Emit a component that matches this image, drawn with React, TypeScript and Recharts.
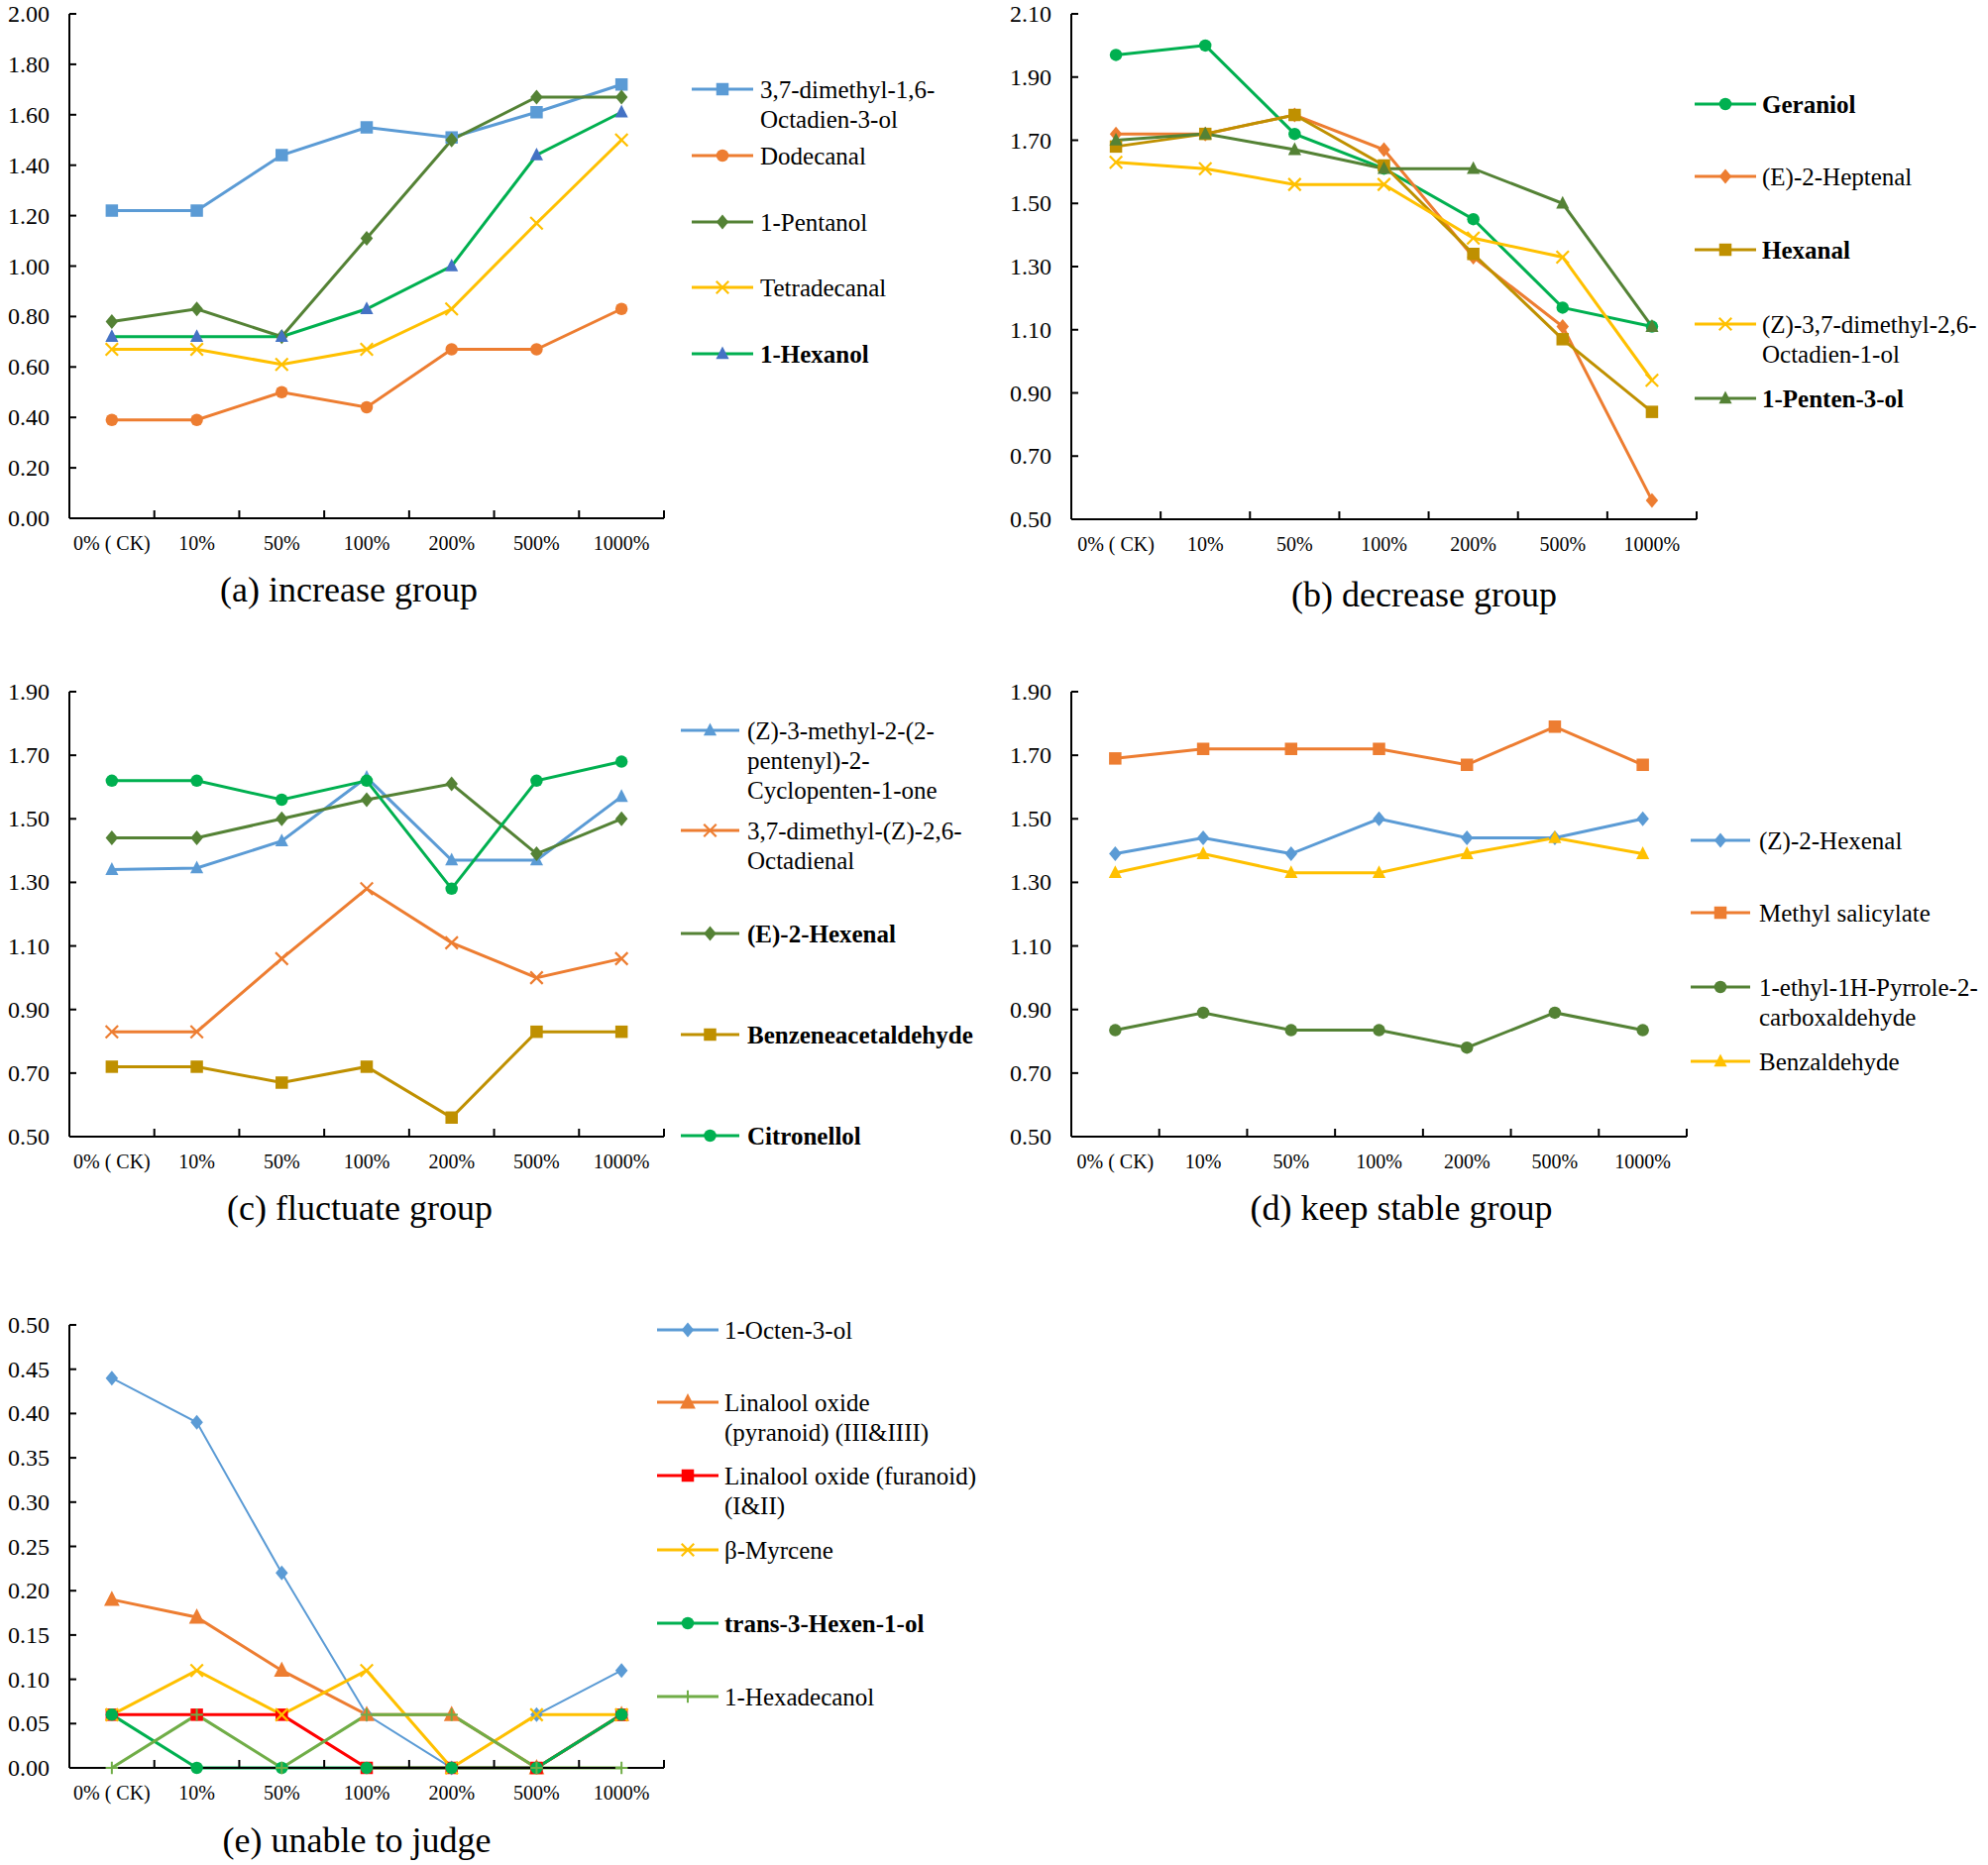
import React from "react";
import { LineChart, Line, XAxis, YAxis } from "recharts";

const FONT = '"Times New Roman", "Liberation Serif", serif';

const categories = ["0% ( CK)", "10%", "50%", "100%", "200%", "500%", "1000%"];

// (a) increase group
const aLinalool = [1.22, 1.22, 1.44, 1.55, 1.51, 1.61, 1.72];
const aDodecanal = [0.39, 0.39, 0.5, 0.44, 0.67, 0.67, 0.83];
const aPentanol = [0.78, 0.83, 0.72, 1.11, 1.5, 1.67, 1.67];
const aTetradecanal = [0.67, 0.67, 0.61, 0.67, 0.83, 1.17, 1.5];
const aHexanol = [0.72, 0.72, 0.72, 0.83, 1.0, 1.44, 1.61];

// (b) decrease group
const bGeraniol = [1.97, 2.0, 1.72, 1.61, 1.45, 1.17, 1.11];
const bHeptenal = [1.72, 1.72, 1.78, 1.67, 1.33, 1.11, 0.56];
const bHexanal = [1.68, 1.72, 1.78, 1.62, 1.34, 1.07, 0.84];
const bGeraniolZ = [1.63, 1.61, 1.56, 1.56, 1.39, 1.33, 0.94];
const bPentenol = [1.7, 1.72, 1.67, 1.61, 1.61, 1.5, 1.11];

// (c) fluctuate group
const cJasmone = [1.34, 1.345, 1.43, 1.63, 1.37, 1.37, 1.57];
const cCitral = [0.83, 0.83, 1.06, 1.28, 1.11, 1.0, 1.06];
const cHexenal = [1.44, 1.44, 1.5, 1.56, 1.61, 1.39, 1.5];
const cBenzeneacet = [0.72, 0.72, 0.67, 0.72, 0.56, 0.83, 0.83];
const cCitronellol = [1.62, 1.62, 1.56, 1.62, 1.28, 1.62, 1.68];

// (d) keep stable group
const dHexenalZ = [1.39, 1.44, 1.39, 1.5, 1.44, 1.44, 1.5];
const dMethylSal = [1.69, 1.72, 1.72, 1.72, 1.67, 1.79, 1.67];
const dPyrrole = [0.835, 0.89, 0.835, 0.835, 0.78, 0.89, 0.835];
const dBenzaldehyde = [1.33, 1.39, 1.33, 1.33, 1.39, 1.44, 1.39];

// (e) unable to judge
const eOctenol = [0.44, 0.39, 0.22, 0.06, 0.0, 0.06, 0.11];
const ePyranoid = [0.19, 0.17, 0.11, 0.06, 0.06, 0.0, 0.06];
const eFuranoid = [0.06, 0.06, 0.06, 0.0, 0.0, 0.0, 0.06];
const eMyrcene = [0.06, 0.11, 0.06, 0.11, 0.0, 0.06, 0.06];
const eHexenol = [0.06, 0.0, 0.0, 0.0, 0.0, 0.0, 0.06];
const eHexadecanol = [0.0, 0.06, 0.0, 0.06, 0.06, 0.0, 0.0];

const ticksA = [0, 0.2, 0.4, 0.6, 0.8, 1.0, 1.2, 1.4, 1.6, 1.8, 2.0];
const ticksB = [0.5, 0.7, 0.9, 1.1, 1.3, 1.5, 1.7, 1.9, 2.1];
const ticksCD = [0.5, 0.7, 0.9, 1.1, 1.3, 1.5, 1.7, 1.9];
const ticksE = [0, 0.05, 0.1, 0.15, 0.2, 0.25, 0.3, 0.35, 0.4, 0.45, 0.5];

const BLUE = "#5B9BD5";
const ORANGE = "#ED7D31";
const OLIVE = "#548235";
const GOLD = "#FFC000";
const GREEN = "#00B050";
const DKGOLD = "#BF9000";
const RED = "#FF0000";
const LTGREEN = "#70AD47";

type Shape = "square" | "circle" | "diamond" | "triangle" | "x" | "plus";

interface SeriesDef {
  label: string[];
  values: number[];
  color: string;
  shape: Shape;
  markerColor?: string;
  width?: number;
  size?: number;
  bold?: boolean;
}

interface PanelDef {
  title: string;
  titleX: number;
  titleY: number;
  plot: { left: number; top: number; right: number; bottom: number };
  ticks: number[];
  series: SeriesDef[];
  legendLine: [number, number];
  legendText: number;
  legendY: number[];
}

function Glyph({ shape, x, y, color, size = 12.5 }: { shape: Shape; x: number; y: number; color: string; size?: number }) {
  const h = size / 2;
  switch (shape) {
    case "square":
      return <rect x={x - h} y={y - h} width={size} height={size} fill={color} />;
    case "circle":
      return <circle cx={x} cy={y} r={h} fill={color} />;
    case "diamond":
      return <polygon points={`${x},${y - h * 1.2} ${x + h},${y} ${x},${y + h * 1.2} ${x - h},${y}`} fill={color} />;
    case "triangle":
      return (
        <polygon
          points={`${x},${y - h * 1.2} ${x + h * 1.05},${y + h * 0.85} ${x - h * 1.05},${y + h * 0.85}`}
          fill={color}
        />
      );
    case "x":
      return (
        <g stroke={color} strokeWidth={2.2}>
          <line x1={x - h} y1={y - h} x2={x + h} y2={y + h} />
          <line x1={x - h} y1={y + h} x2={x + h} y2={y - h} />
        </g>
      );
    case "plus":
      return (
        <g stroke={color} strokeWidth={2}>
          <line x1={x - h} y1={y} x2={x + h} y2={y} />
          <line x1={x} y1={y - h} x2={x} y2={y + h} />
        </g>
      );
  }
  return null;
}

const Y_W = 70;
const TOP_PAD = 20;
const RIGHT_PAD = 12;
const X_H = 50;

function Panel({ def }: { def: PanelDef }) {
  const { plot, ticks, series } = def;
  const data = categories.map((c, i) => {
    const row: Record<string, number | string> = { i, name: c };
    series.forEach((s, k) => {
      row[`s${k}`] = s.values[i];
    });
    return row;
  });
  const plotW = plot.right - plot.left;
  const plotH = plot.bottom - plot.top;
  const width = Y_W + plotW + RIGHT_PAD;
  const height = TOP_PAD + plotH + X_H;
  const domain: [number, number] = [ticks[0], ticks[ticks.length - 1]];
  const band = plotW / categories.length;
  const axisY = TOP_PAD + plotH;

  const xTick = (p: any) => (
    <g>
      <line x1={p.x + band / 2} x2={p.x + band / 2} y1={axisY} y2={axisY - 8} stroke="#000" strokeWidth={2} />
      <text x={p.x} y={axisY + 25} textAnchor="middle" dominantBaseline="central" fontSize={20} fontFamily={FONT} fill="#000">
        {categories[p.payload.value]}
      </text>
    </g>
  );
  const yTick = (p: any) => (
    <g>
      <line x1={Y_W} x2={Y_W + 7} y1={p.y} y2={p.y} stroke="#000" strokeWidth={2} />
      <text x={Y_W - 20} y={p.y} textAnchor="end" dominantBaseline="central" fontSize={24} fontFamily={FONT} fill="#000">
        {Number(p.payload.value).toFixed(2)}
      </text>
    </g>
  );

  return (
    <div style={{ position: "absolute", left: plot.left - Y_W, top: plot.top - TOP_PAD }}>
      <LineChart width={width} height={height} data={data} margin={{ top: TOP_PAD, right: RIGHT_PAD, left: 0, bottom: 0 }}>
        <XAxis
          type="number"
          dataKey="i"
          domain={[-0.5, 6.5]}
          ticks={[0, 1, 2, 3, 4, 5, 6]}
          interval={0}
          height={X_H}
          axisLine={{ stroke: "#000", strokeWidth: 2 }}
          tickLine={false}
          tick={xTick}
        />
        <YAxis
          domain={domain}
          ticks={ticks}
          interval={0}
          width={Y_W}
          axisLine={{ stroke: "#000", strokeWidth: 2 }}
          tickLine={false}
          tick={yTick}
        />
        {series.map((s, k) => (
          <Line
            key={k}
            type="linear"
            dataKey={`s${k}`}
            stroke={s.color}
            strokeWidth={s.width ?? 3}
            isAnimationActive={false}
            activeDot={false}
            dot={(p: any) => (
              <g key={`d${k}-${p.index}`}>
                <Glyph shape={s.shape} x={p.cx} y={p.cy} color={s.markerColor ?? s.color} size={s.size} />
              </g>
            )}
          />
        ))}
      </LineChart>
    </div>
  );
}

function Overlay({ defs }: { defs: PanelDef[] }) {
  return (
    <svg
      width={2006}
      height={1882}
      style={{ position: "absolute", left: 0, top: 0, pointerEvents: "none" }}
      fontFamily={FONT}
    >
      {defs.map((d, pi) => (
        <g key={pi}>
          {d.series.map((s, k) => {
            const y = d.legendY[k];
            const [x1, x2] = d.legendLine;
            return (
              <g key={k}>
                <line x1={x1} y1={y} x2={x2} y2={y} stroke={s.color} strokeWidth={3} />
                <Glyph shape={s.shape} x={(x1 + x2) / 2} y={y} color={s.markerColor ?? s.color} size={s.size} />
                <text x={d.legendText} y={y} fontSize={25} fontWeight={s.bold ? "bold" : "normal"} fill="#000">
                  {s.label.map((ln, li) => (
                    <tspan key={li} x={d.legendText} dy={li === 0 ? "0.35em" : 30}>
                      {ln}
                    </tspan>
                  ))}
                </text>
              </g>
            );
          })}
          <text x={d.titleX} y={d.titleY} fontSize={36} textAnchor="middle" dominantBaseline="central" fill="#000">
            {d.title}
          </text>
        </g>
      ))}
    </svg>
  );
}

const panels: PanelDef[] = [
  {
    title: "(a) increase group",
    titleX: 352,
    titleY: 595,
    plot: { left: 70, top: 14, right: 670, bottom: 523 },
    ticks: ticksA,
    series: [
      { label: ["3,7-dimethyl-1,6-", "Octadien-3-ol"], values: aLinalool, color: BLUE, shape: "square" },
      { label: ["Dodecanal"], values: aDodecanal, color: ORANGE, shape: "circle" },
      { label: ["1-Pentanol"], values: aPentanol, color: OLIVE, shape: "diamond" },
      { label: ["Tetradecanal"], values: aTetradecanal, color: GOLD, shape: "x" },
      { label: ["1-Hexanol"], values: aHexanol, color: GREEN, shape: "triangle", markerColor: "#4472C4", bold: true },
    ],
    legendLine: [698, 760],
    legendText: 767,
    legendY: [90, 157, 224, 290, 357],
  },
  {
    title: "(b) decrease group",
    titleX: 1437,
    titleY: 600,
    plot: { left: 1081, top: 14, right: 1712, bottom: 524 },
    ticks: ticksB,
    series: [
      { label: ["Geraniol"], values: bGeraniol, color: GREEN, shape: "circle", bold: true },
      { label: ["(E)-2-Heptenal"], values: bHeptenal, color: ORANGE, shape: "diamond" },
      { label: ["Hexanal"], values: bHexanal, color: DKGOLD, shape: "square", bold: true },
      { label: ["(Z)-3,7-dimethyl-2,6-", "Octadien-1-ol"], values: bGeraniolZ, color: GOLD, shape: "x" },
      { label: ["1-Penten-3-ol"], values: bPentenol, color: OLIVE, shape: "triangle", bold: true },
    ],
    legendLine: [1710, 1772],
    legendText: 1778,
    legendY: [105, 178, 252, 327, 402],
  },
  {
    title: "(c) fluctuate group",
    titleX: 363,
    titleY: 1219,
    plot: { left: 70, top: 698, right: 670, bottom: 1147 },
    ticks: ticksCD,
    series: [
      { label: ["(Z)-3-methyl-2-(2-", "pentenyl)-2-", "Cyclopenten-1-one"], values: cJasmone, color: BLUE, shape: "triangle" },
      { label: ["3,7-dimethyl-(Z)-2,6-", "Octadienal"], values: cCitral, color: ORANGE, shape: "x" },
      { label: ["(E)-2-Hexenal"], values: cHexenal, color: OLIVE, shape: "diamond", bold: true },
      { label: ["Benzeneacetaldehyde"], values: cBenzeneacet, color: DKGOLD, shape: "square", bold: true },
      { label: ["Citronellol"], values: cCitronellol, color: GREEN, shape: "circle", bold: true },
    ],
    legendLine: [687, 746],
    legendText: 754,
    legendY: [737, 838, 942, 1044, 1146],
  },
  {
    title: "(d) keep stable group",
    titleX: 1414,
    titleY: 1219,
    plot: { left: 1081, top: 698, right: 1702, bottom: 1147 },
    ticks: ticksCD,
    series: [
      { label: ["(Z)-2-Hexenal"], values: dHexenalZ, color: BLUE, shape: "diamond" },
      { label: ["Methyl salicylate"], values: dMethylSal, color: ORANGE, shape: "square" },
      { label: ["1-ethyl-1H-Pyrrole-2-", "carboxaldehyde"], values: dPyrrole, color: OLIVE, shape: "circle" },
      { label: ["Benzaldehyde"], values: dBenzaldehyde, color: GOLD, shape: "triangle" },
    ],
    legendLine: [1706, 1766],
    legendText: 1775,
    legendY: [848, 921, 996, 1071],
  },
  {
    title: "(e) unable to judge",
    titleX: 360,
    titleY: 1857,
    plot: { left: 70, top: 1337, right: 670, bottom: 1784 },
    ticks: ticksE,
    series: [
      { label: ["1-Octen-3-ol"], values: eOctenol, color: BLUE, shape: "diamond", width: 2 },
      { label: ["Linalool oxide", "(pyranoid) (III&IIII)"], values: ePyranoid, color: ORANGE, shape: "triangle", size: 15 },
      { label: ["Linalool oxide (furanoid)", "(I&II)"], values: eFuranoid, color: RED, shape: "square" },
      { label: ["β-Myrcene"], values: eMyrcene, color: GOLD, shape: "x" },
      { label: ["trans-3-Hexen-1-ol"], values: eHexenol, color: GREEN, shape: "circle", bold: true },
      { label: ["1-Hexadecanol"], values: eHexadecanol, color: LTGREEN, shape: "plus" },
    ],
    legendLine: [663, 725],
    legendText: 731,
    legendY: [1342, 1415, 1489, 1564, 1638, 1712],
  },
];

export default function App() {
  return (
    <div style={{ position: "absolute", left: 0, top: 0, width: 2006, height: 1882, background: "#fff", fontFamily: FONT }}>
      {panels.map((p, i) => (
        <Panel key={i} def={p} />
      ))}
      <Overlay defs={panels} />
    </div>
  );
}
